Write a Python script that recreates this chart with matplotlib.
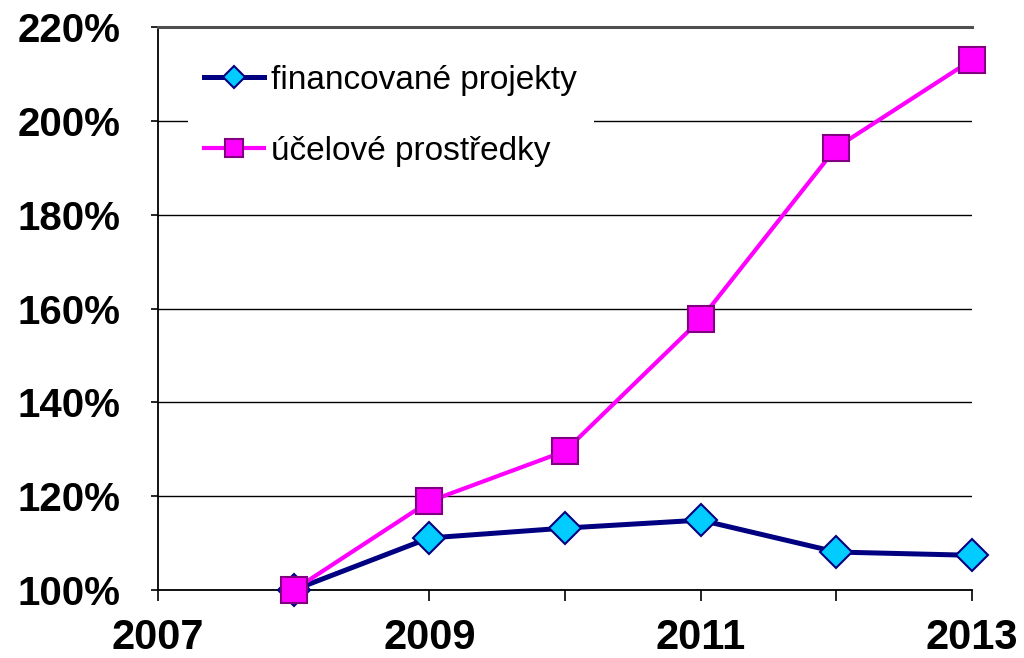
import matplotlib

matplotlib.use("Agg")
import matplotlib.pyplot as plt
from matplotlib.ticker import FuncFormatter

plt.rcParams["font.family"] = ["Liberation Sans", "DejaVu Sans"]

years = [2008, 2009, 2010, 2011, 2012, 2013]
projekty = [100.0, 111.1, 113.2, 114.9, 108.1, 107.4]
prostredky = [100.0, 118.9, 129.6, 157.7, 194.3, 213.0]

label_projekty = "financované projekty"
label_prostredky = "účelové prostředky"

xticks = [2007, 2008, 2009, 2010, 2011, 2012, 2013]
xtick_labels = ["2007", "", "2009", "", "2011", "", "2013"]
yticks = [100, 120, 140, 160, 180, 200, 220]

fig = plt.figure(figsize=(10.24, 6.58), dpi=100)
ax = fig.add_axes([0.1543, 0.1033, 0.7949, 0.8557])

ax.plot(years, projekty, color="#000080", lw=3.6, marker="D", markersize=16,
        markerfacecolor="#00CCFF", markeredgecolor="#000080", markeredgewidth=1.5,
        label=label_projekty, zorder=3, clip_on=False)
ax.plot(years, prostredky, color="#FF00FF", lw=3.0, marker="s", markersize=19,
        markerfacecolor="#FF00FF", markeredgecolor="#800080", markeredgewidth=1.5,
        label=label_prostredky, zorder=4, clip_on=False)

ax.set_xlim(2007, 2013)
ax.set_ylim(100, 220)
ax.set_xticks(xticks)
ax.set_xticklabels(xtick_labels)
ax.set_yticks(yticks)
ax.yaxis.set_major_formatter(FuncFormatter(lambda v, _: f"{v:.0f}%"))

ax.yaxis.grid(True, color="black", lw=1.0)
ax.set_axisbelow(True)

ax.spines["right"].set_visible(False)
ax.spines["top"].set_color("#505050")
ax.spines["top"].set_linewidth(2.2)
ax.spines["left"].set_linewidth(1.3)
ax.spines["bottom"].set_linewidth(1.3)

ax.tick_params(axis="x", direction="out", length=8, width=1.2, pad=12,
               labelsize=30)
ax.tick_params(axis="y", direction="out", length=5, width=1.2, pad=22,
               labelsize=29)
for lab in ax.get_xticklabels() + ax.get_yticklabels():
    lab.set_fontweight("bold")

leg = ax.legend(loc="upper left", bbox_to_anchor=(0.016, 0.992), fontsize=24,
                frameon=True, fancybox=False, framealpha=1.0, facecolor="white",
                edgecolor="none", handlelength=1.8, handletextpad=0.2,
                labelspacing=1.2, borderpad=0.5, markerscale=0.7)
leg.set_zorder(5)

fig.savefig("out.png", dpi=100)
